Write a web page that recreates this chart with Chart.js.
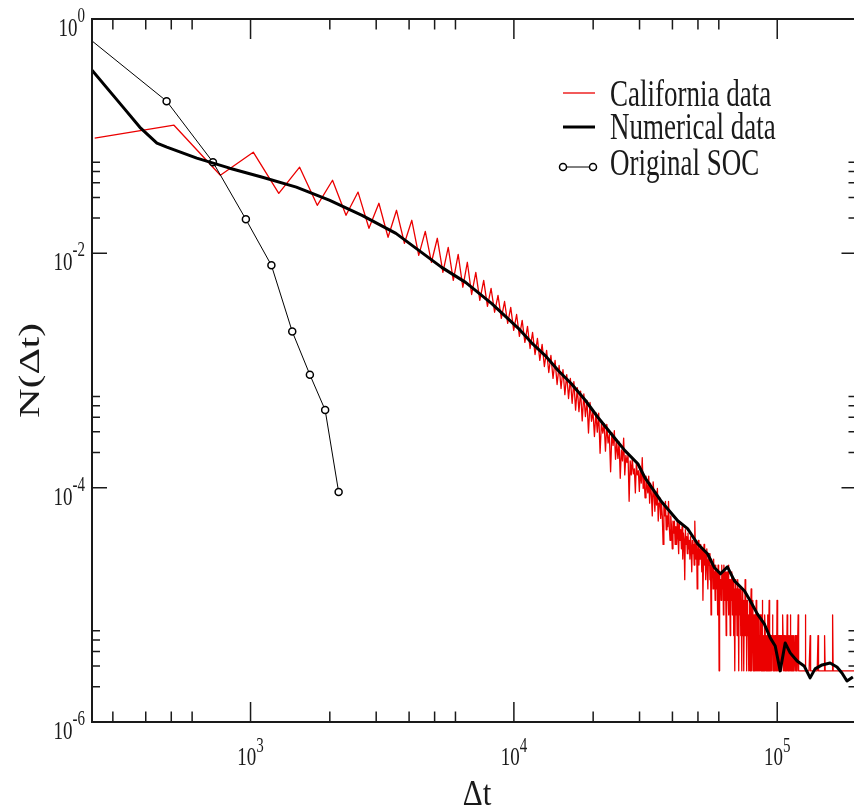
<!DOCTYPE html>
<html>
<head>
<meta charset="utf-8">
<script src="https://cdn.jsdelivr.net/npm/chart.js@4.4.1/dist/chart.umd.min.js"></script>
<style>
html, body { margin: 0; padding: 0; background: #fff; overflow: hidden; }
canvas { display: block; }
</style>
</head>
<body>
<canvas id="twinChart" width="862" height="810"></canvas>
<script>
// California catalogue: waiting-time histogram, bins of 256 s, raw counts per bin
const CAL_BIN = 256;
const CAL_TOTAL = 366000;
const CAL_COUNTS = [
    35200, 45400, 17000, 26700, 11900, 19900, 9400, 15400, 7730, 12200, 5990, 9790, 5020, 8530, 4460, 7010, 3520, 5640, 3070, 4920,
    2520, 4120, 2150, 3590, 1880, 3070, 1630, 2520, 1450, 2150, 1290, 1840, 1150, 1600, 1020, 1420, 923, 1265, 804, 1100,
    715, 979, 635, 870, 564, 773, 501, 687, 446, 611, 396, 543, 352, 492, 313, 446, 278, 404, 257, 373,
    228, 338, 211, 313, 192, 294, 168, 261, 163, 244, 136, 231, 148, 203, 107, 196, 135, 164, 100, 160,
    109, 158, 72, 132, 107, 129, 75, 127, 88, 104, 50, 108, 84, 112, 64, 91, 65, 90, 44, 77,
    62, 97, 47, 69, 60, 69, 28, 62, 47, 65, 48, 53, 33, 60, 47, 51, 34, 55, 40, 66,
    36, 45, 30, 46, 38, 33, 46, 27, 40, 32, 21, 41, 32, 23, 34, 26, 36, 19, 27, 30,
    20, 27, 21, 12, 26, 21, 28, 16, 21, 17, 28, 17, 13, 21, 17, 11, 19, 15, 19, 12,
    17, 12, 19, 14, 10, 18, 13, 16, 11, 17, 9, 15, 13, 6, 16, 12, 14, 10, 15, 11,
    13, 9, 14, 11, 7, 13, 10, 12, 8, 19, 11, 9, 12, 5, 10, 13, 8, 11, 9, 12,
    10, 7, 11, 4, 9, 12, 8, 10, 6, 9, 11, 7, 5, 9, 8, 10, 6, 8, 3, 9,
    7, 8, 5, 9, 6, 7, 4, 8, 6, 5, 7, 3, 8, 6, 1, 7, 5, 6, 4, 8,
    6, 5, 7, 3, 8, 6, 4, 7, 5, 2, 6, 7, 4, 5, 8, 3, 6, 5, 2, 6,
    5, 4, 7, 3, 5, 6, 2, 5, 4, 1, 6, 4, 3, 5, 2, 4, 6, 3, 1, 5,
    4, 3, 5, 2, 4, 1, 3, 5, 2, 4, 3, 1, 4, 2, 6, 3, 2, 4, 1, 3,
    4, 2, 3, 1, 3, 2, 4, 1, 2, 3, 5, 2, 1, 3, 2, 4, 1, 2, 3, 1,
    2, 3, 1, 2, 4, 2, 1, 3, 2, 1, 2, 3, 1, 2, 2, 1, 3, 2, 1, 2,
    3, 1, 4, 2, 1, 2, 2, 1, 2, 1, 3, 2, 1, 2, 1, 2, 2, 1, 3, 1,
    2, 1, 2, 4, 1, 2, 2, 2, 1, 2, 2, 1, 2, 2, 3, 2, 1, 2, 2, 1,
    2, 2, 1, 2, 2, 1, 2, 2, 1, 4, 2, 1, 2, 2, 2, 1, 2, 1, 2, 2,
    2, 2, 1, 2, 2, 2, 1, 2, 2, 3, 2, 1, 2, 2, 2, 1, 2, 2, 1, 2,
    2, 1, 2, 2, 1, 3, 1, 2, 2, 1, 2, 2, 1, 2, 2, 1, 2, 3, 1, 2,
    1, 2, 1, 1, 1, 2, 1, 1, 1, 1, 2, 1, 1, 1, 1, 1, 2, 1, 1, 1,
    1, 1, 1, 2, 1, 1, 1, 1, 3, 1, 1, 1, 1, 1, 1, 1, 1, 1, 1, 1,
    1, 1, 1, 1, 1, 1, 1, 1, 1, 1, 1, 1, 1, 1, 1, 1, 1, 1, 3, 1,
    1, 1, 1, 1, 1, 1, 1, 1, 1, 1, 1, 1, 1, 1, 1, 1, 1, 1, 1, 1,
    2, 1, 1, 1, 1, 1, 1, 1, 1, 1, 1, 1, 1, 1, 1, 1, 1, 1, 1, 1,
    1, 1, 1, 1, 1, 1, 1, 1, 1, 1, 1, 1, 1, 1, 1, 1, 1, 2, 1, 1,
    1, 1, 1, 1, 1, 1, 1, 1, 1, 1, 1, 1, 1, 1, 1, 1, 1, 1, 1, 1,
    1, 1, 1, 1, 1, 1, 1, 1, 1, 1, 1, 1, 2, 1, 1, 1, 1, 1, 1, 1,
    1, 1, 1, 1, 1, 1, 1, 1, 1, 1, 1, 1, 1, 1, 1, 1, 1, 1, 1, 1,
    1, 1, 1, 1, 1, 1, 1, 1, 1, 1, 1, 1, 1, 1, 1, 3, 1, 1, 1, 1,
    1, 1, 1, 1, 1, 1, 1, 1, 1, 1, 1, 1, 1, 1, 1, 1, 1, 1, 1, 1,
    1, 1, 1, 1, 1, 1, 1, 1, 1, 1, 1, 1, 1, 1, 1, 1, 1, 1, 1, 1,
    1, 1, 1, 1, 1, 1, 1, 1, 1, 1, 1, 1, 1, 1, 1, 1, 1, 1, 1, 1,
    1, 1, 1, 1, 1, 1, 1, 1, 1, 1, 1, 1, 1, 1, 1, 1, 1, 1, 1, 1,
    1, 1, 1, 1, 1, 1, 1, 1, 1, 1, 1, 1, 1, 1, 1, 1, 1, 1, 1, 1,
    1, 1, 1, 1, 1, 1, 1, 1, 1, 1, 1, 1, 1, 1, 1, 1, 1, 1, 1, 1,
    1, 1, 1, 1, 1, 1, 1, 1, 1, 1, 1, 1, 1, 1, 1, 1, 1, 1, 1, 1,
    1
];

// numerical model
const NUM_X = [250, 328, 380, 441, 481, 625, 833, 1110, 1492, 1990, 2651, 3565, 4355, 5320, 6555, 8222,
    10400, 11650, 13150, 14730, 16500, 18640, 20870, 23370, 26400, 29560, 31430, 36120, 41880, 45660,
    49830, 54370, 57790, 60890, 64710, 68780, 75040, 79060, 84030, 89300, 94080, 98260, 102600, 107200,
    112000, 119000, 126500, 133300, 139200, 148000, 158700, 168600, 176100, 184000, 193800];
const NUM_Y = [0.366, 0.177, 0.119, 0.0871, 0.0805, 0.0649, 0.0533, 0.0446, 0.0367, 0.0284, 0.0211, 0.0148, 0.0106, 0.00759, 0.00565, 0.00374,
    0.00229, 0.00173, 0.00134, 0.00100, 0.000774, 0.000560, 0.000397, 0.000290, 0.000207, 0.000160, 0.000122, 7.74e-5, 5.22e-5, 4.47e-5,
    3.32e-5, 2.73e-5, 2.07e-5, 1.84e-5, 2.11e-5, 1.60e-5, 1.32e-5, 1.08e-5, 8.37e-6, 6.88e-6, 5.22e-6, 4.46e-6, 2.73e-6, 4.73e-6,
    3.89e-6, 3.32e-6, 3.01e-6, 2.38e-6, 2.84e-6, 3.07e-6, 3.19e-6, 2.95e-6, 2.62e-6, 2.24e-6, 2.42e-6];

// original SOC model
const SOC_X = [240, 480, 720, 960, 1200, 1440, 1680, 1920, 2160];
const SOC_Y = [0.70, 0.199, 0.060, 0.0195, 0.0079, 0.00215, 0.00092, 0.00046, 9.2e-5];

// axis ticks (xmgrace style: majors plus 2..6 minors)
const X_MAJOR = [1e3, 1e4, 1e5];
const X_EXP = ['3', '4', '5'];
const X_MINOR = [300, 400, 500, 600, 2000, 3000, 4000, 5000, 6000, 20000, 30000, 40000, 50000, 60000];
const Y_MAJOR = [1e-6, 1e-4, 1e-2, 1];
const Y_EXP = ['-6', '-4', '-2', '0'];
const Y_MINOR = [2e-6, 3e-6, 4e-6, 5e-6, 6e-6, 2e-4, 3e-4, 4e-4, 5e-4, 6e-4, 2e-2, 3e-2, 4e-2, 5e-2, 6e-2];

const SERIF = '"Liberation Serif", "Times New Roman", serif';
const STRETCH = 1.37;   // the original figure is stretched vertically

function stretchText(ctx, str, x, y, size, align, sy) {
    ctx.save();
    ctx.translate(x, y);
    ctx.scale(1, sy);
    ctx.font = size + 'px ' + SERIF;
    ctx.textAlign = align;
    ctx.textBaseline = 'alphabetic';
    ctx.fillText(str, 0, 0);
    ctx.restore();
}

function textWidth(ctx, str, size) {
    ctx.font = size + 'px ' + SERIF;
    return ctx.measureText(str).width;
}

const axesPlugin = {
    id: 'graceAxes',
    afterDatasetsDraw(chart) {
        const { ctx, chartArea: a, scales: { x, y } } = chart;
        ctx.save();
        ctx.strokeStyle = '#1a1a1a';
        ctx.lineWidth = 2;
        ctx.strokeRect(a.left, a.top, a.right - a.left, a.bottom - a.top);

        ctx.lineWidth = 1.5;
        ctx.beginPath();
        const xTick = (v, len) => {
            const px = x.getPixelForValue(v);
            ctx.moveTo(px, a.bottom); ctx.lineTo(px, a.bottom - len);
            ctx.moveTo(px, a.top); ctx.lineTo(px, a.top + len);
        };
        const yTick = (v, len) => {
            const py = y.getPixelForValue(v);
            ctx.moveTo(a.left, py); ctx.lineTo(a.left + len, py);
            ctx.moveTo(a.right, py); ctx.lineTo(a.right - len, py);
        };
        X_MAJOR.forEach(v => xTick(v, 20));
        X_MINOR.forEach(v => xTick(v, 10.5));
        Y_MAJOR.forEach(v => yTick(v, 15));
        Y_MINOR.forEach(v => yTick(v, 8));
        ctx.stroke();

        ctx.fillStyle = '#1a1a1a';
        X_MAJOR.forEach((v, i) => {
            const px = x.getPixelForValue(v);
            const w1 = textWidth(ctx, '10', 19);
            const w2 = textWidth(ctx, X_EXP[i], 15);
            const start = px - (w1 + w2) / 2;
            stretchText(ctx, '10', start, 765, 19, 'left', STRETCH);
            stretchText(ctx, X_EXP[i], start + w1, 752, 15, 'left', STRETCH);
        });
        Y_MAJOR.forEach((v, i) => {
            const py = y.getPixelForValue(v);
            const w2 = textWidth(ctx, Y_EXP[i], 15);
            stretchText(ctx, Y_EXP[i], 85, py + 3, 15, 'right', STRETCH);
            stretchText(ctx, '10', 85 - w2, py + 17, 19, 'right', STRETCH);
        });

        // axis titles
        stretchText(ctx, '\u0394t', 477, 805, 31, 'center', 1.15);
        ctx.save();
        ctx.translate(31, (a.top + a.bottom) / 2);
        ctx.scale(1, STRETCH);
        ctx.rotate(-Math.PI / 2);
        ctx.font = '30px ' + SERIF;
        ctx.textAlign = 'center';
        ctx.textBaseline = 'middle';
        ctx.fillText('N(\u0394t)', 0, 0);
        ctx.restore();
        ctx.restore();
    }
};

const LEGEND_ROWS = [{ line: 93, text: 105.5 }, { line: 127, text: 138.5 }, { line: 167, text: 174.5 }];

const legendPlugin = {
    id: 'graceLegend',
    afterDraw(chart) {
        const ctx = chart.ctx;
        chart.data.datasets.forEach((ds, i) => {
            const row = LEGEND_ROWS[i];
            ctx.save();
            ctx.strokeStyle = ds.borderColor;
            ctx.lineWidth = Math.min(ds.borderWidth, 3);
            ctx.beginPath();
            ctx.moveTo(563, row.line);
            ctx.lineTo(ds.pointRadius ? 593 : 595, row.line);
            ctx.stroke();
            if (ds.pointRadius) {
                [563, 593].forEach(px => {
                    ctx.beginPath();
                    ctx.arc(px, row.line, ds.pointRadius, 0, 2 * Math.PI);
                    ctx.fillStyle = ds.pointBackgroundColor;
                    ctx.fill();
                    ctx.lineWidth = ds.pointBorderWidth;
                    ctx.strokeStyle = ds.pointBorderColor;
                    ctx.stroke();
                });
            }
            ctx.fillStyle = '#1a1a1a';
            stretchText(ctx, ds.label, 610, row.text, 27, 'left', STRETCH);
            ctx.restore();
        });
    }
};

function generateTwinChart() {
    const calPoints = CAL_COUNTS.map((c, i) => ({ x: CAL_BIN * (i + 1), y: c / CAL_TOTAL }));
    const numPoints = NUM_X.map((v, i) => ({ x: v, y: NUM_Y[i] }));
    const socPoints = SOC_X.map((v, i) => ({ x: v, y: SOC_Y[i] }));

    const ctx = document.getElementById('twinChart').getContext('2d');
    new Chart(ctx, {
        type: 'line',
        data: {
            datasets: [{
                label: 'California data',
                data: calPoints,
                borderColor: 'rgb(235,0,0)',
                borderWidth: 1.3,
                pointRadius: 0,
                order: 3
            }, {
                label: 'Numerical data',
                data: numPoints,
                borderColor: '#000',
                borderWidth: 3,
                pointRadius: 0,
                order: 1
            }, {
                label: 'Original SOC',
                data: socPoints,
                borderColor: '#000',
                borderWidth: 1,
                pointRadius: 3.5,
                pointBorderWidth: 1.5,
                pointBackgroundColor: '#fff',
                pointBorderColor: '#000',
                order: 2
            }]
        },
        options: {
            responsive: false,
            animation: false,
            layout: { padding: { left: 92, top: 19, right: 2, bottom: 88 } },
            elements: { line: { tension: 0, borderJoinStyle: 'round' } },
            scales: {
                x: { type: 'logarithmic', min: 250, max: 2e5, display: false },
                y: { type: 'logarithmic', min: 1e-6, max: 1, display: false }
            },
            plugins: {
                legend: { display: false },
                tooltip: { enabled: false }
            }
        },
        plugins: [axesPlugin, legendPlugin]
    });
}

document.addEventListener("DOMContentLoaded", () => {
    generateTwinChart();
});
</script>
</body>
</html>
